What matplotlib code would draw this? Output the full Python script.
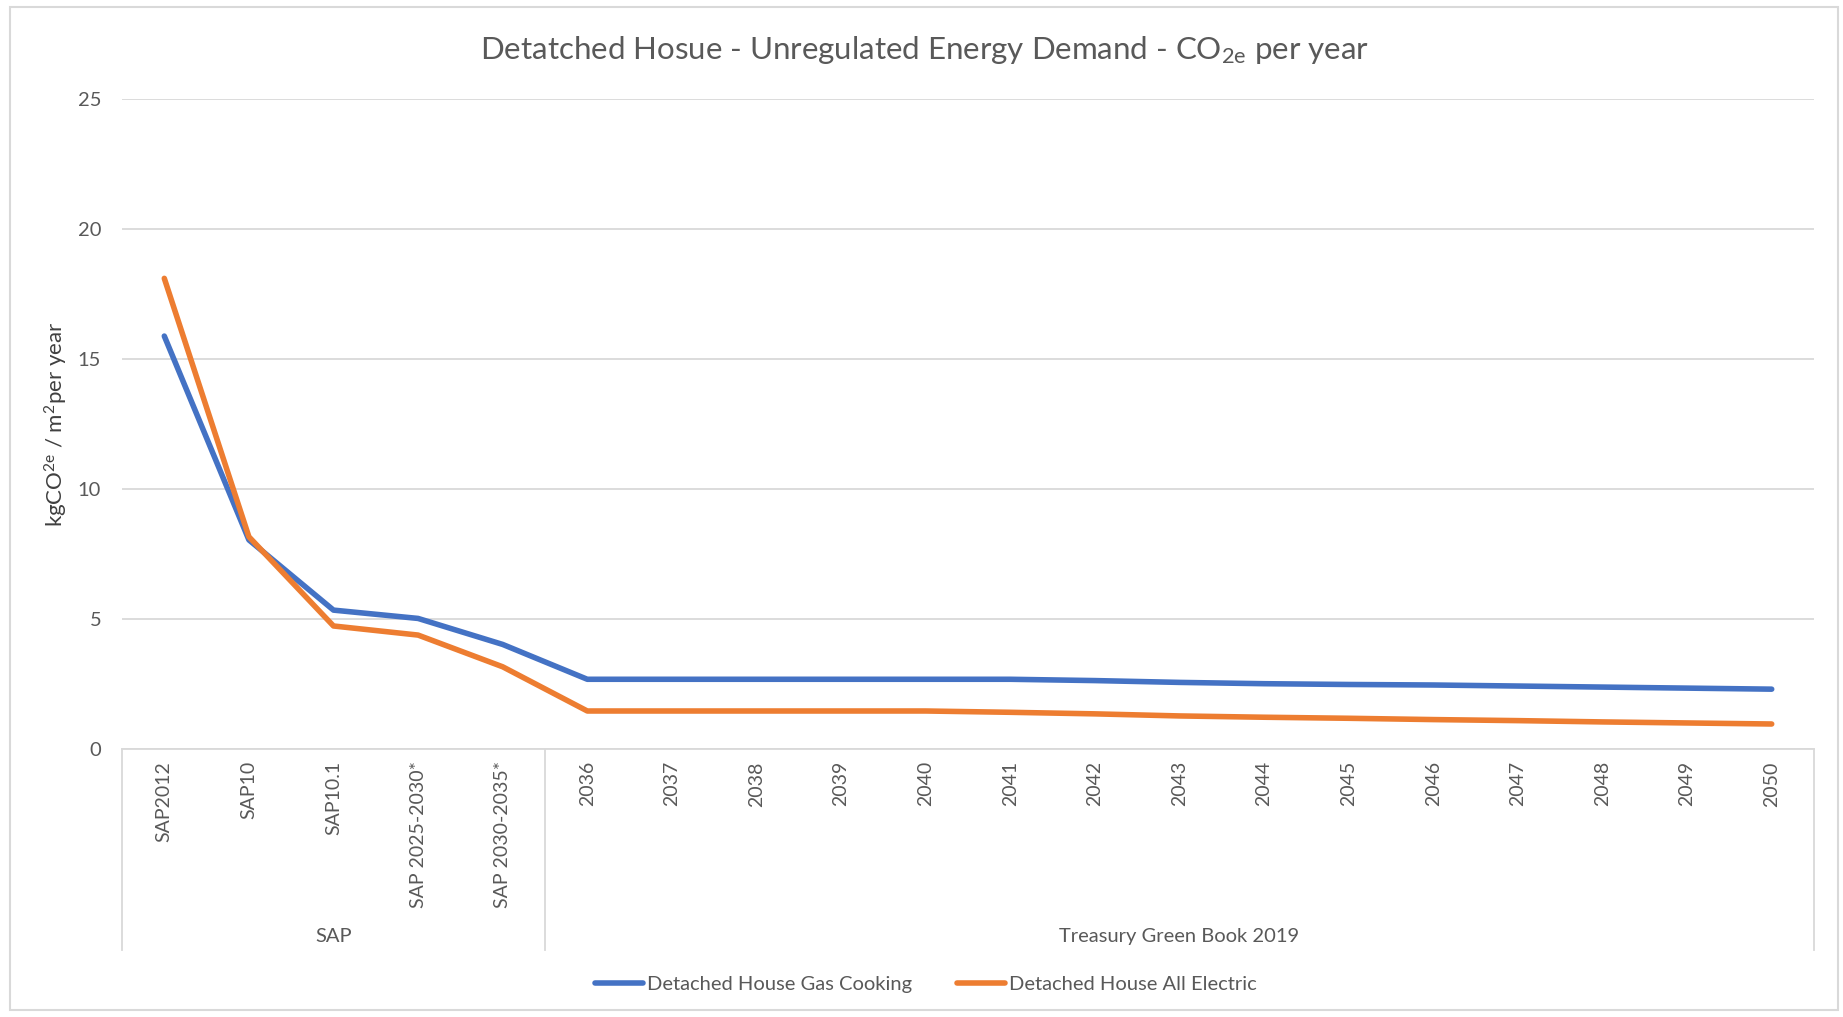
import matplotlib
matplotlib.use("Agg")
import matplotlib.pyplot as plt
from matplotlib.patches import Rectangle

# ── datos ─────────────────────────────────────────────
categories = ["SAP2012", "SAP10", "SAP10.1", "SAP 2025-2030*", "SAP 2030-2035*",
              "2036", "2037", "2038", "2039", "2040", "2041", "2042", "2043",
              "2044", "2045", "2046", "2047", "2048", "2049", "2050"]
groups = ["SAP", "Treasury Green Book 2019"]
group_sizes = [5, 15]

gas_cooking = [15.87, 8.03, 5.33, 5.01, 4.01,
               2.67, 2.67, 2.67, 2.67, 2.67, 2.67, 2.62, 2.55,
               2.50, 2.47, 2.45, 2.41, 2.37, 2.33, 2.29]
all_electric = [18.09, 8.15, 4.72, 4.37, 3.15,
                1.45, 1.45, 1.45, 1.45, 1.45, 1.40, 1.34, 1.26,
                1.21, 1.17, 1.12, 1.08, 1.03, 0.99, 0.95]

series_names = ["Detached House Gas Cooking", "Detached House All Electric"]
y_ticks = [0, 5, 10, 15, 20, 25]

BLUE = "#4472C4"
ORANGE = "#ED7D31"
GRID = "#D9D9D9"
TXT = "#595959"

plt.rcParams["font.family"] = ["Lato", "DejaVu Sans"]
plt.rcParams["mathtext.fontset"] = "custom"
plt.rcParams["mathtext.rm"] = "Lato"
plt.rcParams["mathtext.it"] = "Lato"
plt.rcParams["mathtext.default"] = "regular"

W, H = 1843, 1017
fig = plt.figure(figsize=(W / 100, H / 100), dpi=100)
ax = fig.add_axes([122 / W, 1 - 748.7 / H, (1814 - 122) / W, (748.7 - 98.7) / H])

x = list(range(len(categories)))
ax.plot(x, gas_cooking, color=BLUE, lw=4.0, solid_capstyle="round", solid_joinstyle="round",
        label=series_names[0], zorder=3)
ax.plot(x, all_electric, color=ORANGE, lw=4.0, solid_capstyle="round", solid_joinstyle="round",
        label=series_names[1], zorder=3)

ax.set_xlim(-0.5, len(categories) - 0.5)
ax.set_ylim(0, 25)
ax.set_yticks(y_ticks)
ax.grid(axis="y", color=GRID, lw=1.3)
ax.set_axisbelow(True)
for s in ["top", "right", "left"]:
    ax.spines[s].set_visible(False)
ax.spines["bottom"].set_color(GRID)
ax.spines["bottom"].set_linewidth(1.3)

ax.set_xticks(x)
ax.set_xticklabels(categories, rotation=90)
ax.tick_params(axis="x", length=0, pad=9, labelsize=14, labelcolor=TXT)
ax.tick_params(axis="y", length=0, pad=15, labelsize=14.5, labelcolor=TXT)

# eje de categorías multinivel
tr = ax.get_xaxis_transform()
y_bot = -0.31
edges = [-0.5]
for n in group_sizes:
    edges.append(edges[-1] + n)
for e in edges:
    ax.plot([e, e], [0, y_bot], transform=tr, color=GRID, lw=1.3, clip_on=False)
for g, a, b in zip(groups, edges[:-1], edges[1:]):
    ax.text((a + b) / 2, -0.289, g, transform=tr, ha="center", va="center",
            fontsize=14.5, color=TXT)

# título y etiqueta del eje
fig.text(925 / W, 1 - 50 / H, "Detatched Hosue - Unregulated Energy Demand - CO$_{2e}$ per year",
         ha="center", va="center", fontsize=22.5, color=TXT)
fig.text(56 / W, 1 - 424 / H, "kgCO$^{2e}$ / m$^{2}$per year", rotation=90,
         ha="center", va="center", fontsize=16, color="#404040")

fig.legend(loc="center", bbox_to_anchor=(926 / W, 1 - 984 / H), ncol=2, frameon=False,
           fontsize=14.5, handlelength=2.4, handletextpad=0.2, columnspacing=2.2,
           labelcolor=TXT)

fig.patches.append(Rectangle((10 / W, 7 / H), (1838 - 10) / W, (1010 - 7) / H,
                             transform=fig.transFigure, fill=False, ec=GRID, lw=1.5))

fig.savefig("out.png", dpi=100)
